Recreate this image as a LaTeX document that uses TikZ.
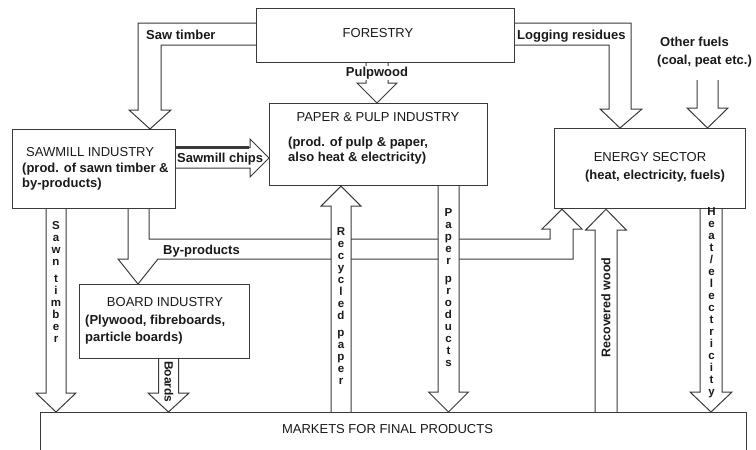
\documentclass[tikz,border=0pt]{standalone}
\usepackage{fontspec}
\setmainfont{Liberation Sans}
\usetikzlibrary{calc}
\pgfdeclarelayer{bg}
\pgfsetlayers{bg,main}
\definecolor{ln}{HTML}{3A3A3A}
\definecolor{tx}{HTML}{1A1A1A}
% vertical block arrows: centre x, start node anchor, tip node anchor, half shaft, half head, head length
\newcommand\fatdown[6]{%
  \path[fatarrow] let \p1=(#2), \p2=(#3) in
   (#1pt-#4pt,\y1) -- (#1pt-#4pt,\y2+#6pt) -- (#1pt-#5pt,\y2+#6pt) -- (#1pt,\y2)
   -- (#1pt+#5pt,\y2+#6pt) -- (#1pt+#4pt,\y2+#6pt) -- (#1pt+#4pt,\y1);}
\newcommand\fatup[6]{%
  \path[fatarrow] let \p1=(#2), \p2=(#3) in
   (#1pt-#4pt,\y1) -- (#1pt-#4pt,\y2-#6pt) -- (#1pt-#5pt,\y2-#6pt) -- (#1pt,\y2)
   -- (#1pt+#5pt,\y2-#6pt) -- (#1pt+#4pt,\y2-#6pt) -- (#1pt+#4pt,\y1);}
\begin{document}
\begin{tikzpicture}[x=1pt,y=-1pt,
  box/.style={draw=ln, line width=1.2pt, inner sep=0pt, anchor=north west},
  fatarrow/.style={draw=ln, fill=white, line width=1pt, line join=miter},
  ttl/.style={font=\fontsize{13}{15}\selectfont, text=tx, inner sep=0pt},
  sub/.style={font=\fontsize{13}{15}\selectfont\bfseries, text=tx, inner sep=0pt},
  stack/.style={font=\fontsize{11.5}{12}\selectfont\bfseries, text=tx, inner sep=0pt, align=center}]
\useasboundingbox (0,0) rectangle (756,450);

% boxes
\node[box, minimum width=258pt, minimum height=54pt] (forestry) at (256,8) {};
\node[box, minimum width=163pt, minimum height=79pt] (sawmill) at (12,129) {};
\node[box, minimum width=218pt, minimum height=82pt] (paper) at (269,103) {};
\node[box, minimum width=191pt, minimum height=80pt] (energy) at (554,128) {};
\node[box, minimum width=170pt, minimum height=74pt] (board) at (79,284) {};
\node[box, minimum width=706pt, minimum height=50pt] (markets) at (40,412) {};
\coordinate (ofs) at (707.5,80);

\begin{pgfonlayer}{bg}
% saw timber
\path[fatarrow] (forestry.west |- 0,23) -- (138,23) -- (138,110) -- (129,110) -- (150,0 |- sawmill.north)
  -- (171,110) -- (161,110) -- (161,45) -- (forestry.west |- 0,45);
% logging residues
\path[fatarrow] (forestry.east |- 0,23) -- (631,23) -- (631,109) -- (642,109) -- (620,0 |- energy.north)
  -- (600,109) -- (609,109) -- (609,45) -- (forestry.east |- 0,45);
% pulpwood
\fatdown{377}{forestry.south}{paper.north}{11}{20}{20}
% other fuels
\fatdown{707.5}{ofs}{energy.north}{10.5}{20.5}{20}
% sawmill chips
\path[fatarrow] (sawmill.east |- 0,147.5) -- (250,147.5) -- (250,139) -- (paper.west |- 0,158)
  -- (250,177) -- (250,168) -- (sawmill.east |- 0,168);
\draw[ln, line width=2.2pt] (sawmill.east |- 0,147.5) -- (249,147.5);
% by-products (to board industry and energy sector)
\path[fatarrow] (128,0 |- sawmill.south) -- (128,259) -- (118,259) -- (138,0 |- board.north) -- (158,259)
  -- (573,259) -- (573,229) -- (582,229) -- (562,0 |- energy.south) -- (542,229) -- (550,229)
  -- (550,239) -- (149,239) -- (149,0 |- sawmill.south);
% vertical flows
\fatdown{56}{sawmill.south}{markets.north}{10}{20}{19}
\fatdown{168.5}{board.south}{markets.north}{10}{20.5}{19}
\fatup{341}{markets.north}{paper.south}{10}{20}{20}
\fatdown{448.5}{paper.south}{markets.north}{10.5}{20}{20}
\fatup{606}{markets.north}{energy.south}{11}{20.5}{21}
\fatdown{711}{energy.south}{markets.north}{11}{21}{20}
\end{pgfonlayer}

% box texts
\node[ttl, anchor=base] (forestryT) at (378,37.6) {FORESTRY};
\node[ttl, anchor=base west] (sawmillT) at (26,156.6) {SAWMILL INDUSTRY};
\node[sub, anchor=base west] (sawmillS1) at (22,172.6) {(prod. of sawn timber \&};
\node[sub, anchor=base west] (sawmillS2) at (22,187.6) {by-products)};
\node[ttl, anchor=base] (paperT) at (378,121.6) {PAPER \& PULP INDUSTRY};
\node[sub, anchor=base west] (paperS1) at (288,146.6) {(prod. of pulp \& paper,};
\node[sub, anchor=base west] (paperS2) at (288,161.6) {also heat \& electricity)};
\node[ttl, anchor=base] (energyT) at (650,161.6) {ENERGY SECTOR};
\node[sub, anchor=base] (energyS) at (655,179.6) {(heat, electricity, fuels)};
\node[ttl, anchor=base] (boardT) at (165,306.6) {BOARD INDUSTRY};
\node[sub, anchor=base west] (boardS1) at (85,324.6) {(Plywood, fibreboards,};
\node[sub, anchor=base west] (boardS2) at (85,341.6) {particle boards)};
\node[ttl, anchor=base] (marketsT) at (387.5,433.6) {MARKETS FOR FINAL PRODUCTS};

% flow labels
\node[sub, anchor=base west] (lSaw) at (146,39.6) {Saw timber};
\node[sub, anchor=base west] (lLog) at (517,39.6) {Logging residues};
\node[sub, anchor=base, fill=white, inner sep=1pt] (lPulp) at (377,76.6) {Pulpwood};
\node[sub, anchor=base west] (lChips) at (177,162.6) {Sawmill chips};
\node[sub, anchor=base west] (lBy) at (163,254.6) {By-products};
\node[sub, anchor=base west] (lOther1) at (660,46.6) {Other fuels};
\node[sub, anchor=base west] (lOther2) at (657,64.6) {(coal, peat etc.)};

% vertical labels
\node[stack] (lSawn) at (56,282) {S\\a\\w\\n\\[5pt]t\\i\\m\\b\\e\\r};
\node[stack] (lRecyc) at (341,306.5) {R\\e\\c\\y\\c\\l\\e\\d\\[5pt]p\\a\\p\\e\\r};
\node[stack] (lPaperP) at (448.5,288) {P\\a\\p\\e\\r\\[6pt]p\\r\\o\\d\\u\\c\\t\\s};
\node[stack] (lHeat) at (711.5,302.5) {H\\e\\a\\t\\/\\e\\l\\e\\c\\t\\r\\i\\c\\i\\t\\y};
\node[sub, font=\fontsize{12.5}{14}\selectfont\bfseries, rotate=90] (lRecov) at (606,307.5) {Recovered wood};
\node[sub, font=\fontsize{12}{14}\selectfont\bfseries, rotate=-90] (lBoards) at (169,382) {Boards};
\end{tikzpicture}
\end{document}
